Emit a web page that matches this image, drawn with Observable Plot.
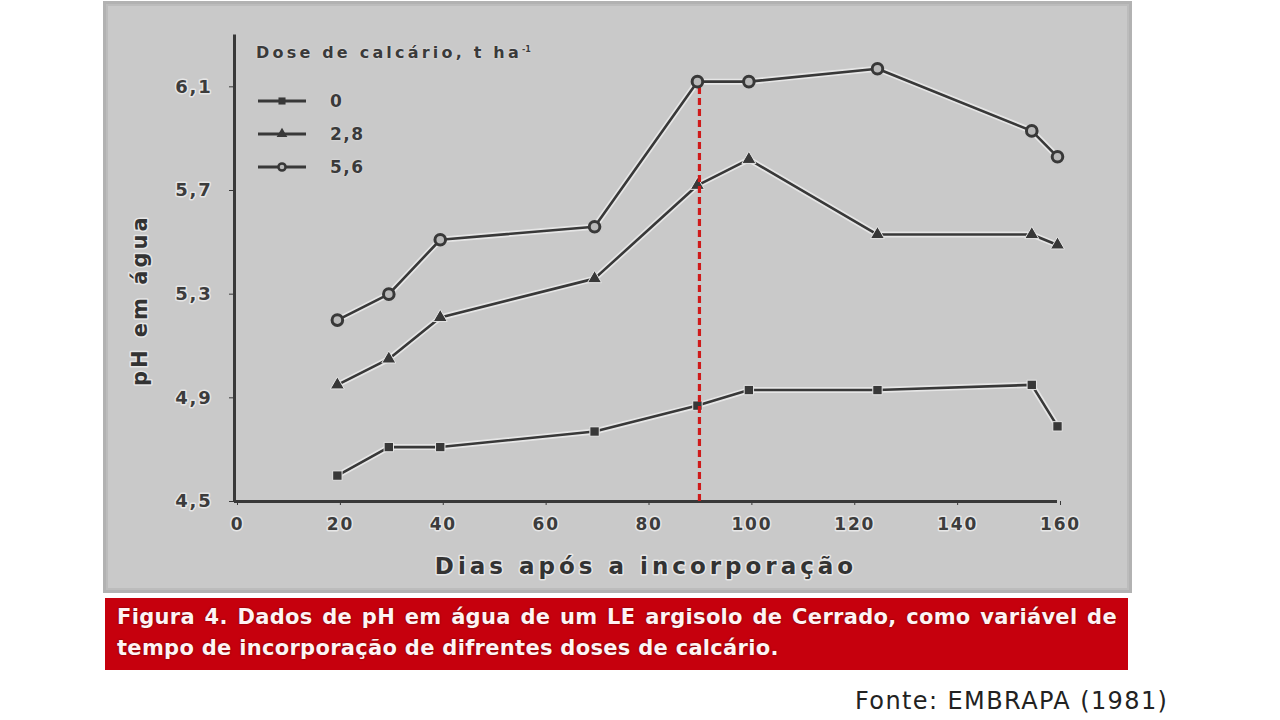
<!DOCTYPE html>
<html><head><meta charset="utf-8">
<script src="https://cdn.jsdelivr.net/npm/d3@7"></script>
<script src="https://cdn.jsdelivr.net/npm/@observablehq/plot@0.6"></script>
<style>
html,body{margin:0;padding:0;background:#fff;width:1280px;height:720px;overflow:hidden;}
#panel{position:absolute;left:103px;top:1px;width:1029px;height:592px;box-sizing:border-box;background:#c9c9c9;border:3px solid #b2b2b2;box-shadow:inset 0 0 0 2px #bcbcbc;}
#chart{position:absolute;left:105px;top:3px;}
#chart svg text{paint-order:stroke;}
#legend{position:absolute;left:256px;top:43px;font-family:"DejaVu Sans",sans-serif;font-weight:bold;color:#3a3a3a;text-shadow:0 0 2px #eee;}
#legend .title{font-size:16px;letter-spacing:3.2px;white-space:nowrap;}
#legend .title sup{font-size:8px;letter-spacing:0;}
#legend .row{position:absolute;left:0;height:20px;display:flex;align-items:center;font-size:17px;letter-spacing:1.5px;}
#legend .row svg{margin-right:22px;}
#caption{position:absolute;left:105px;top:598px;width:1023px;height:72px;background:#c6000d;font-family:"DejaVu Sans",sans-serif;font-weight:bold;color:#fff3f3;font-size:21px;text-shadow:0 0 2px #5a0000;}
#caption .l{position:absolute;left:12px;white-space:nowrap;letter-spacing:0.3px;}
#caption .l1{top:7px;width:1000px;text-align:justify;text-align-last:justify;}
#caption .l2{top:38px;}
#fonte{position:absolute;left:855px;top:687px;font-family:"DejaVu Sans",sans-serif;font-size:24px;letter-spacing:1.4px;color:#222;white-space:nowrap;}
</style></head>
<body>
<div id="panel"></div>
<div id="chart"></div>
<div id="legend"></div>
<div id="caption">
  <div class="l l1">Figura 4. Dados de pH em água de um LE argisolo de Cerrado, como variável de</div>
  <div class="l l2">tempo de incorporação de difrentes doses de calcário.</div>
</div>
<div id="fonte">Fonte: EMBRAPA (1981)</div>
<script>
// ---- data ----
const days = [20, 30, 40, 70, 90, 100, 125, 155, 160];
const ph0  = [4.60, 4.71, 4.71, 4.77, 4.87, 4.93, 4.93, 4.95, 4.79];
const ph28 = [4.95, 5.05, 5.21, 5.36, 5.72, 5.82, 5.53, 5.53, 5.49];
const ph56 = [5.20, 5.30, 5.51, 5.56, 6.12, 6.12, 6.17, 5.93, 5.83];
const doses = ["0", "2,8", "5,6"];
const symbols = ["square", "triangle", "circle"];
const xTicks = [0, 20, 40, 60, 80, 100, 120, 140, 160];
const yTicks = [4.5, 4.9, 5.3, 5.7, 6.1];
const markerDay = 90;
const legendTitle = "Dose de calcário, t ha";
const xTitle = "Dias após a incorporação";
const yTitle = "pH em água";

const series = [ph0, ph28, ph56];
const rows = [];
series.forEach((vals, i) => days.forEach((d, j) => rows.push({dose: doses[i], day: d, ph: vals[j]})));
const fmt = d => d.toFixed(1).replace(".", ",");
const ink = "#383838";
const halo = "#e6e6e6";
const font = "DejaVu Sans, sans-serif";

const markAt = ph56[days.indexOf(markerDay)];

const chart = Plot.plot({
  width: 1025, height: 587,
  marginLeft: 129, marginRight: 73, marginTop: 31.5, marginBottom: 89,
  x: {domain: [0, 160]},
  y: {domain: [4.5, 6.3]},
  style: {background: "transparent", fontFamily: font, color: ink, overflow: "visible"},
  marks: [
    Plot.axisY({ticks: yTicks, tickFormat: fmt, tickSize: 5, tickPadding: 17, fontSize: 18, fontWeight: "bold",
      stroke: ink, fill: "#3c3c3c", textStroke: halo, textStrokeWidth: 3, label: null}),
    Plot.axisX({ticks: xTicks, tickSize: 4, tickPadding: 12, fontSize: 17, fontWeight: "bold", dx: 3,
      stroke: ink, fill: "#3c3c3c", textStroke: halo, textStrokeWidth: 3, label: null}),
    Plot.ruleX([0], {y1: 4.5, y2: 6.3, stroke: ink, strokeWidth: 3}),
    Plot.ruleY([4.5], {x1: 0, x2: 160, stroke: ink, strokeWidth: 3}),
    Plot.line(rows, {x: "day", y: "ph", z: "dose", stroke: halo, strokeWidth: 6}),
    Plot.line(rows, {x: "day", y: "ph", z: "dose", stroke: ink, strokeWidth: 2.6}),
    Plot.dot(rows.filter(r => r.dose === doses[0]), {x: "day", y: "ph", symbol: "square", r: 5.3, fill: ink, stroke: halo, strokeWidth: 1}),
    Plot.dot(rows.filter(r => r.dose === doses[1]), {x: "day", y: "ph", symbol: "triangle", r: 5.2, fill: ink, stroke: halo, strokeWidth: 1}),
    Plot.ruleX([markerDay], {y1: 4.5, y2: markAt, dx: 2, stroke: "#cf1a1a", strokeWidth: 3.2, strokeDasharray: "7,4"}),
    Plot.dot(rows.filter(r => r.dose === doses[2]), {x: "day", y: "ph", symbol: "circle", r: 5.3, fill: "#b9b9b9", stroke: ink, strokeWidth: 3}),
    Plot.text([xTitle], {frameAnchor: "bottom", dy: 72, fontSize: 23, fontWeight: "bold", fill: "#333", stroke: halo, strokeWidth: 3}),
    Plot.text([yTitle], {frameAnchor: "left", textAnchor: "middle", rotate: -90, dx: -94, dy: 32, fontSize: 21, fontWeight: "bold", fill: "#333", stroke: halo, strokeWidth: 3})
  ]
});
document.getElementById("chart").appendChild(chart);
d3.select(chart).selectAll("text").each(function() {
  const t = this.textContent;
  if (t === xTitle) this.style.letterSpacing = "4px";
  else if (t === yTitle) this.style.letterSpacing = "3px";
  else this.style.letterSpacing = "1.8px";
});

// ---- legend ----
const legend = d3.select("#legend");
legend.append("div").attr("class", "title").html(legendTitle + "<sup>-1</sup>");
const rowTops = [48, 81, 114];
doses.forEach((d, i) => {
  const row = legend.append("div").attr("class", "row").style("top", rowTops[i] + "px");
  const svg = row.append("svg").attr("width", 52).attr("height", 20);
  svg.append("line").attr("x1", 2).attr("x2", 50).attr("y1", 10).attr("y2", 10).attr("stroke", ink).attr("stroke-width", 3);
  const sym = {square: d3.symbolSquare, triangle: d3.symbolTriangle, circle: d3.symbolCircle}[symbols[i]];
  const size = symbols[i] === "circle" ? 40 : 50;
  svg.append("path").attr("transform", "translate(26,10)").attr("d", d3.symbol(sym, size)())
    .attr("fill", symbols[i] === "circle" ? "#b9b9b9" : ink).attr("stroke", ink).attr("stroke-width", symbols[i] === "circle" ? 2.5 : 0);
  row.append("span").text(d);
});
</script>
</body></html>
